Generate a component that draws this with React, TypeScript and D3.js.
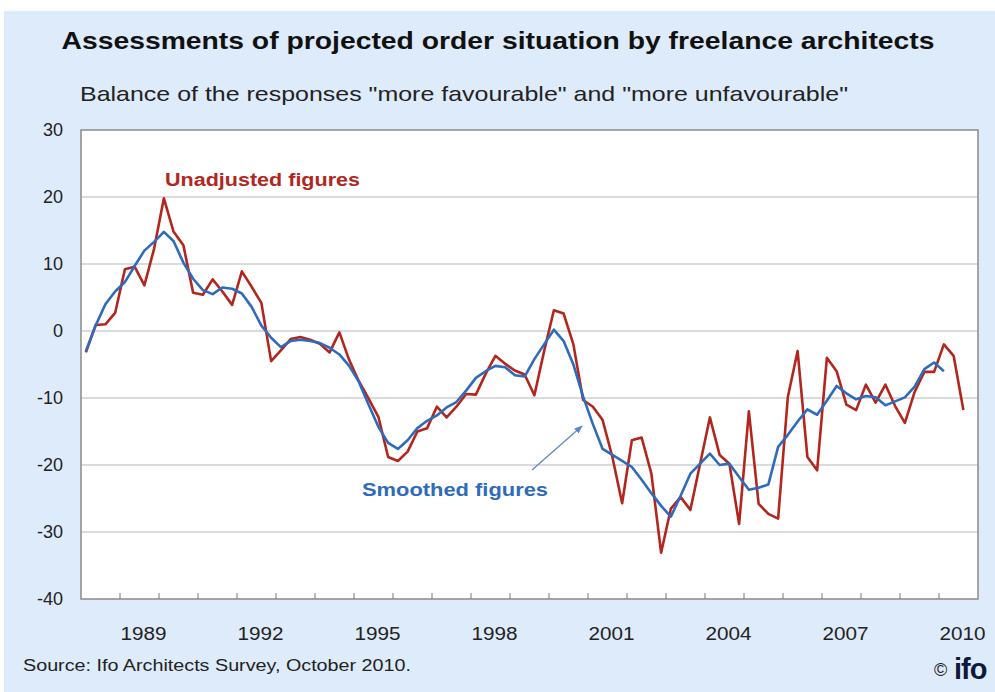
import React from "react";
import * as d3 from "d3";

const unadjusted: number[] = [
  -3.2, 0.9, 1.0, 2.7, 9.2, 9.6, 6.8, 12.3, 19.8, 14.8, 12.8, 5.7, 5.4, 7.7, 5.9, 3.9,
  8.9, 6.6, 4.2, -4.5, -2.9, -1.2, -0.9, -1.3, -1.9, -3.2, -0.2, -4.3, -7.5, -10.1, -12.8,
  -18.8, -19.4, -18.0, -15.0, -14.5, -11.3, -12.9, -11.3, -9.4, -9.5, -6.4, -3.7, -4.9,
  -5.9, -6.5, -9.6, -3.0, 3.1, 2.6, -2.0, -10.3, -11.3, -13.3, -18.8, -25.7, -16.3, -15.9,
  -21.3, -33.1, -26.5, -24.8, -26.7, -19.8, -12.9, -18.5, -19.8, -28.8, -12.0, -25.8,
  -27.3, -28.0, -9.8, -3.0, -18.8, -20.8, -4.0, -6.0, -11.0, -11.8, -8.0, -10.7, -8.0,
  -11.2, -13.7, -9.1, -6.1, -6.1, -2.0, -3.7, -11.8,
];

const smoothed: number[] = [
  -3.0, 0.8, 4.0, 5.9, 7.3, 9.7, 12.0, 13.3, 14.8, 13.4, 10.2, 7.8, 6.1, 5.5, 6.5, 6.3,
  5.6, 3.6, 0.8, -1.0, -2.4, -1.5, -1.3, -1.5, -1.8, -2.5, -3.5, -5.2, -7.6, -11.0, -14.3,
  -16.7, -17.6, -16.3, -14.5, -13.4, -12.6, -11.4, -10.6, -8.9, -7.0, -6.0, -5.2, -5.4,
  -6.6, -6.8, -4.2, -2.0, 0.2, -1.5, -5.0, -9.8, -13.9, -17.6, -18.5, -19.4, -20.3, -22.2,
  -24.2, -26.1, -27.7, -24.6, -21.3, -19.8, -18.3, -20.0, -19.8, -21.8, -23.7, -23.4,
  -22.9, -17.3, -15.5, -13.5, -11.7, -12.5, -10.4, -8.2, -9.3, -10.2, -9.7, -9.9, -11.1,
  -10.5, -9.9, -8.3, -5.7, -4.7, -6.0,
];

const startYear = 1988; // first quarter 1988
const yTicks: number[] = [30, 20, 10, 0, -10, -20, -30, -40];
const xLabels: number[] = [1989, 1992, 1995, 1998, 2001, 2004, 2007, 2010];
const tickYears: number[] = d3.range(1989, 2011);

const W = 995;
const H = 692;
const plot = { left: 81, right: 978, top: 130, bottom: 599 };

export default function App() {
  const x = d3.scaleLinear().domain([1988, 2011]).range([plot.left, plot.right]);
  const y = d3.scaleLinear().domain([-40, 30]).range([plot.bottom, plot.top]);
  const t = (i: number) => startYear + 0.125 + 0.25 * i;
  const line = d3
    .line<number>()
    .x((_, i) => x(t(i)))
    .y((d) => y(d));

  const red = "#b3261e";
  const blue = "#2f6bbd";
  const font = "'Liberation Sans', Arial, sans-serif";

  return (
    <svg
      width={W}
      height={H}
      style={{ position: "absolute", left: 0, top: 0, display: "block" }}
      fontFamily={font}
    >
      <defs>
        <marker id="arr" viewBox="0 0 10 10" refX="9" refY="5" markerWidth="7" markerHeight="7" orient="auto">
          <path d="M0,1 L10,5 L0,9 z" fill="#5a86c4" />
        </marker>
      </defs>
      <rect x={0} y={0} width={W} height={H} fill="#ffffff" />
      <rect x={4} y={11} width={W - 4} height={H - 11} fill="#deebfb" />
      <text x={498} y={49} textAnchor="middle" fontSize={24} fontWeight="bold" fill="#111" textLength={873} lengthAdjust="spacingAndGlyphs">
        Assessments of projected order situation by freelance architects
      </text>
      <text x={80} y={101} fontSize={21} fill="#222" textLength={768} lengthAdjust="spacingAndGlyphs">
        Balance of the responses "more favourable" and "more unfavourable"
      </text>

      <rect x={plot.left} y={plot.top} width={plot.right - plot.left} height={plot.bottom - plot.top} fill="#ffffff" />
      {yTicks.map((v) =>
        v > -40 && v < 30 ? (
          <line key={"g" + v} x1={plot.left} x2={plot.right} y1={y(v)} y2={y(v)} stroke="#cfcfcf" strokeWidth={1.5} />
        ) : null
      )}
      <rect x={plot.left} y={plot.top} width={plot.right - plot.left} height={plot.bottom - plot.top} fill="none" stroke="#8a8a8a" strokeWidth={1.5} />
      {tickYears.map((yr) => (
        <line key={"t" + yr} x1={x(yr)} x2={x(yr)} y1={plot.bottom} y2={plot.bottom - 6} stroke="#777" strokeWidth={1} />
      ))}
      {yTicks.map((v) => (
        <text key={"yl" + v} x={63} y={y(v) + 6} textAnchor="end" fontSize={18} fill="#222">
          {v}
        </text>
      ))}
      {xLabels.map((yr) => (
        <text key={"xl" + yr} x={x(yr + 0.6)} y={640} textAnchor="middle" fontSize={18} fill="#222" textLength={46} lengthAdjust="spacingAndGlyphs">
          {yr}
        </text>
      ))}

      <path d={line(unadjusted) ?? ""} fill="none" stroke={red} strokeWidth={2.6} strokeLinejoin="round" />
      <path d={line(smoothed) ?? ""} fill="none" stroke={blue} strokeWidth={2.6} strokeLinejoin="round" />

      <text x={165} y={186} fontSize={18} fontWeight="bold" fill={red} textLength={195} lengthAdjust="spacingAndGlyphs">
        Unadjusted figures
      </text>
      <text x={362} y={496} fontSize={18} fontWeight="bold" fill={blue} textLength={186} lengthAdjust="spacingAndGlyphs">
        Smoothed figures
      </text>
      <line x1={532} y1={470} x2={582} y2={426} stroke="#5a86c4" strokeWidth={1.2} markerEnd="url(#arr)" />

      <text x={23} y={671} fontSize={16} fill="#222" textLength={388} lengthAdjust="spacingAndGlyphs">
        Source: Ifo Architects Survey, October 2010.
      </text>
      <text x={934} y={676} fontSize={18} fill="#222">©</text>
      <text x={954} y={679} fontSize={29} fontWeight="bold" fill="#0d1a3a" letterSpacing={-1}>ifo</text>
    </svg>
  );
}
